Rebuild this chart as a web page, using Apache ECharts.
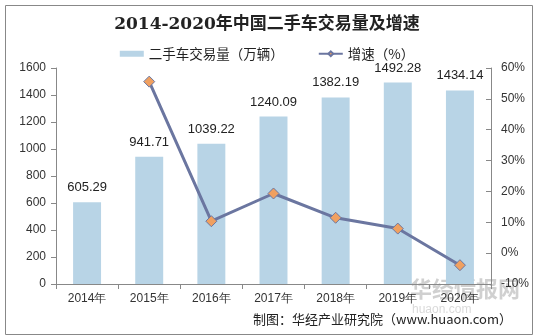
<!DOCTYPE html>
<html><head><meta charset="utf-8">
<script src="https://cdn.jsdelivr.net/npm/echarts@6/dist/echarts.min.js"></script>
<style>html,body{margin:0;padding:0;background:#fff}#c{width:534px;height:336px}</style>
</head><body><div id="c"></div>
<script>
const categories = ['2014年','2015年','2016年','2017年','2018年','2019年','2020年'];
const volume = [605.29, 941.71, 1039.22, 1240.09, 1382.19, 1492.28, 1434.14];
const growth = [null, 55.58, 10.35, 19.33, 11.46, 7.96, -3.9];
const leftTicks = {min: 0, max: 1600, interval: 200};
const rightTicks = {min: -10, max: 60, interval: 10};

const chart = echarts.init(document.getElementById('c'), null, {renderer: 'canvas'});
const axisFont = {fontFamily: 'Liberation Sans, Arial, sans-serif', fontSize: 12, color: '#333'};
chart.setOption({
  animation: false,
  title: {
    text: '2014-2020年中国二手车交易量及增速',
    left: 'center', top: 11,
    textStyle: {fontFamily: 'DejaVu Serif, Noto Sans CJK SC, serif', fontWeight: 'bold', fontSize: 17, color: '#222'}
  },
  legend: {
    top: 42, left: 'center', itemGap: 34, itemWidth: 24, itemHeight: 6,
    textStyle: {fontFamily: 'Noto Sans CJK SC, sans-serif', fontSize: 13.5, color: '#222'},
    data: [
      {name: '二手车交易量（万辆）', icon: 'rect'},
      {name: '增速（%）'}
    ]
  },
  grid: {left: 56, right: 43, top: 68, bottom: 52},
  xAxis: {
    type: 'category', data: categories,
    axisLine: {lineStyle: {color: '#888'}},
    axisTick: {show: true, alignWithLabel: false, length: 5, lineStyle: {color: '#888'}},
    axisLabel: Object.assign({margin: 9}, axisFont)
  },
  yAxis: [
    {
      type: 'value', min: leftTicks.min, max: leftTicks.max, interval: leftTicks.interval,
      axisLine: {show: true, lineStyle: {color: '#888'}},
      axisTick: {show: true, length: 5, lineStyle: {color: '#888'}},
      splitLine: {show: false},
      axisLabel: Object.assign({margin: 10, formatter: v => String(v)}, axisFont)
    },
    {
      type: 'value', min: rightTicks.min, max: rightTicks.max, interval: rightTicks.interval,
      axisLine: {show: true, lineStyle: {color: '#888'}},
      axisTick: {show: true, inside: true, length: 5, lineStyle: {color: '#888'}},
      splitLine: {show: false},
      axisLabel: Object.assign({margin: 10, formatter: '{value}%'}, axisFont)
    }
  ],
  series: [
    {
      name: '二手车交易量（万辆）', type: 'bar', data: volume, barWidth: '45%',
      itemStyle: {color: '#B8D4E6'},
      label: {show: true, position: 'top', distance: 8, fontFamily: 'Liberation Sans, Arial, sans-serif', fontSize: 13, color: '#222',
        formatter: p => p.value.toFixed(2)}
    },
    {
      name: '增速（%）', type: 'line', yAxisIndex: 1, data: growth,
      symbol: 'diamond', symbolSize: 11, connectNulls: false,
      lineStyle: {color: '#6B76A0', width: 3},
      itemStyle: {color: '#F0A060', borderColor: '#6B76A0', borderWidth: 1}
    }
  ],
  graphic: [
    {type: 'rect', left: 3, top: 3, shape: {width: 527, height: 329}, style: {fill: 'none', stroke: '#888', lineWidth: 1}, silent: true},
    {type: 'text', left: 410, top: 278, style: {text: '华经情报网', fill: 'rgba(150,150,150,0.45)', font: 'bold 22px Noto Sans CJK SC'}},
    {type: 'text', left: 412, top: 304, style: {text: 'huaon.com', fill: 'rgba(170,170,170,0.45)', font: '12px Liberation Sans'}},
    {type: 'text', right: 22, top: 313, style: {text: '制图：华经产业研究院（www.huaon.com）', fill: '#222', font: '13px Noto Sans CJK SC'}}
  ]
});
</script></body></html>
